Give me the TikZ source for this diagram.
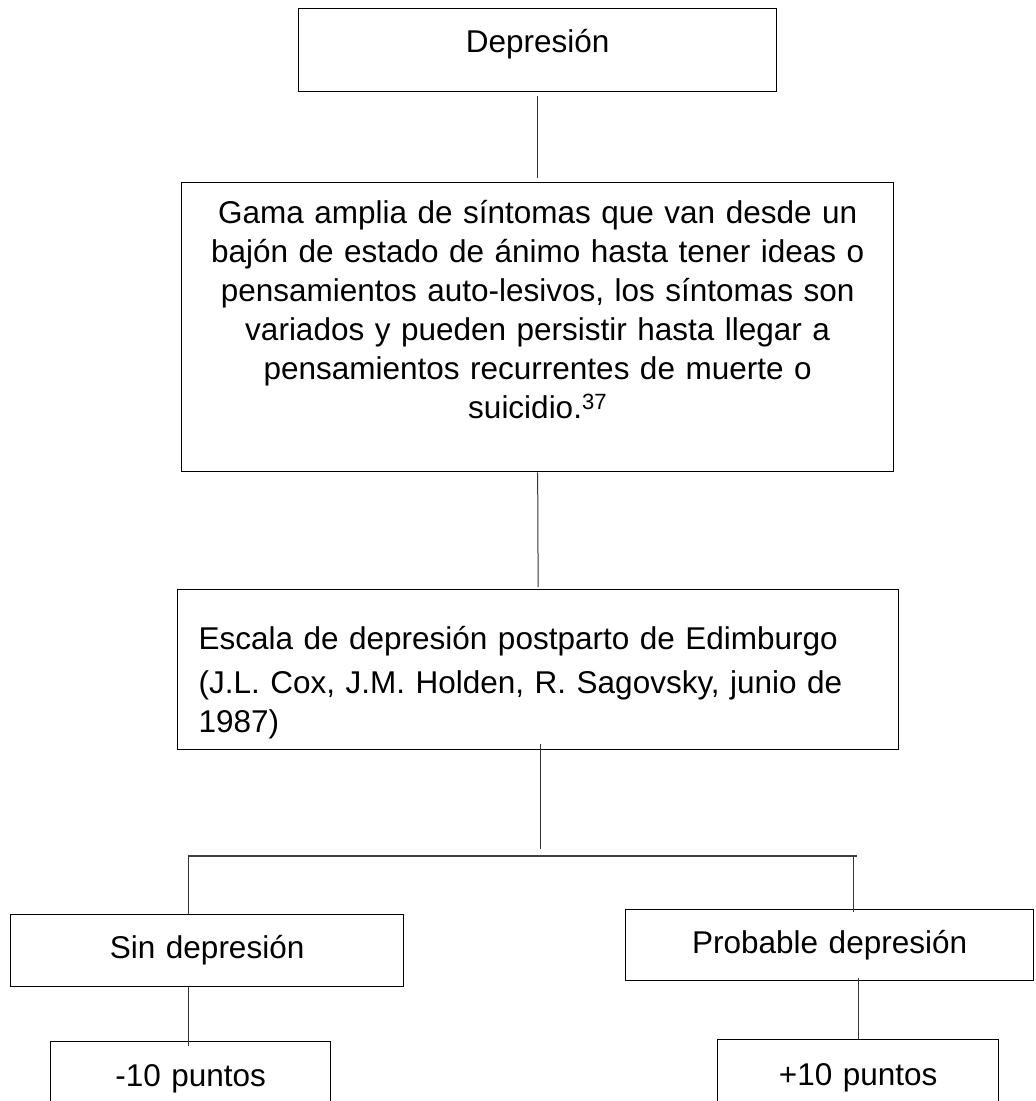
\documentclass[tikz,border=0pt]{standalone}
\usepackage{fontspec}
\setmainfont{Liberation Sans}
\usetikzlibrary{calc}
\tikzset{
  caja/.style={rectangle, draw=black, line width=1.3pt, inner sep=0pt, anchor=north west,
               font=\fontsize{31.5}{39}\selectfont},
  enlace/.style={line width=1pt, draw=black!80},
  barra/.style={line width=1.8pt, draw=black!75},
}

\begin{document}
\begin{tikzpicture}[x=1pt, y=-1pt]
    \path[use as bounding box, clip] (0,0) rectangle (1036,1101);
    \node[caja, text width=478pt, align=center, text height=44pt, text depth=39pt] (dep) at (298,8)
      {Depresión};
    \node[caja, text width=712pt, align=center, text height=41pt, text depth=248pt] (gama) at (181,182)
      {Gama amplia de síntomas que van desde un\\
       bajón de estado de ánimo hasta tener ideas o\\
       pensamientos auto-lesivos, los síntomas son\\
       variados y pueden persistir hasta llegar a\\
       pensamientos recurrentes de muerte o\\
       suicidio.\textsuperscript{37}};
    \node[caja, text width=679pt, inner xsep=21pt, align=left, text height=60pt, text depth=100pt] (escala) at (177,589)
      {Escala de depresión postparto de Edimburgo\\[5pt]
       (J.L. Cox, J.M. Holden, R. Sagovsky, junio de\\
       1987)};
    \node[caja, text width=393pt, align=center, text height=44pt, text depth=28pt] (sin) at (10,914)
      {Sin depresión};
    \node[caja, text width=408pt, align=center, text height=44pt, text depth=27pt] (prob) at (625,909)
      {Probable depresión};
    \node[caja, text width=280pt, align=center, text height=45pt, text depth=60pt] (menos) at (50,1041)
      {-10 puntos};
    \node[caja, text width=281pt, align=center, text height=46pt, text depth=60pt] (mas) at (717,1039)
      {+10 puntos};
    % ramas
    \coordinate (rama) at (540,849);
    \coordinate (izq) at (188,856);
    \coordinate (der) at (857,856);
    \draw[enlace, shorten <=4pt, shorten >=4pt] (dep.south) -- (gama.north);
    \draw[enlace, shorten >=2pt] (gama.south) -- (escala.north);
    \draw[enlace] ([yshift=6pt]rama |- escala.south) -- (rama);
    \draw[barra] (izq) -- (der);
    \draw[enlace] (izq) -- (izq |- sin.north);
    \draw[enlace] ([xshift=-4pt]der) -- ([xshift=-4pt, yshift=-3pt]der |- prob.north);
    \draw[enlace] (izq |- sin.south) -- ([yshift=-5pt]izq |- menos.north);
    \draw[enlace] ([yshift=3pt]mas.north |- prob.south) -- (mas.north);
\end{tikzpicture}
\end{document}
